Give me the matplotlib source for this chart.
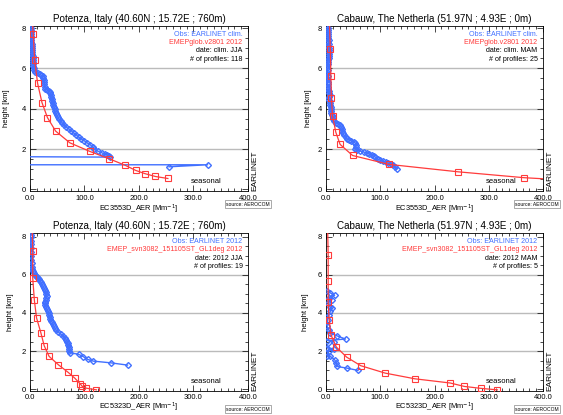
import matplotlib.pyplot as plt
from matplotlib.ticker import MultipleLocator, FormatStrFormatter

plt.rcParams['font.family'] = ['Liberation Sans', 'DejaVu Sans']

BLUE = '#4170ff'
RED = '#ff3b3b'

# Potenza, clim. JJA
pz_clim_obs_y = [8.0, 7.9, 7.8, 7.7, 7.6, 7.5, 7.4, 7.3, 7.2, 7.1, 7.0, 6.9, 6.8, 6.7, 6.6, 6.5, 6.4, 6.3,
                 6.2, 6.1, 6.0, 5.9, 5.8, 5.75, 5.7, 5.65, 5.6, 5.5, 5.4, 5.3, 5.2, 5.1, 5.0, 4.95, 4.9,
                 4.85, 4.8, 4.7, 4.6, 4.5, 4.4, 4.3, 4.2, 4.1, 4.0, 3.9, 3.8, 3.7, 3.6, 3.5, 3.4, 3.3,
                 3.2, 3.1, 3.0, 2.9, 2.8, 2.7, 2.6, 2.5, 2.4, 2.3, 2.2, 2.1, 2.0, 1.9, 1.8, 1.75, 1.7,
                 1.65, 1.6, 1.62, 1.22, 1.22, 1.12]
pz_clim_obs_x = [1, 1, 1.5, 1.5, 2, 2, 2, 2.5, 3, 3, 3, 3.5, 3.5, 4, 5, 5, 5.5, 5.5,
                 6, 6, 7, 8, 10, 14, 18, 21, 23, 24, 25, 26, 26, 27, 28, 31, 34,
                 36, 37, 38, 39, 40, 41, 42, 43, 44, 45, 46, 47, 49, 51, 53, 56, 59,
                 62, 66, 71, 76, 80, 85, 89, 94, 100, 105, 111, 115, 118, 124, 133, 138, 142,
                 145, 147, -20, -20, 326, 255]
pz_clim_mod_x = [4, 6, 8.5, 14, 22, 32, 47, 73, 110, 145, 175, 194, 211, 230, 253]
pz_clim_mod_y = [8.5, 7.7, 6.4, 5.25, 4.3, 3.56, 2.89, 2.31, 1.88, 1.52, 1.19, 0.94, 0.78, 0.64, 0.54]

# Cabauw, clim. MAM
cb_clim_obs_y = [8.0, 7.9, 7.8, 7.7, 7.6, 7.5, 7.4, 7.3, 7.2, 7.1, 7.0, 6.9, 6.8, 6.7, 6.6, 6.5, 6.4, 6.3,
                 6.2, 6.1, 6.0, 5.9, 5.8, 5.7, 5.6, 5.5, 5.4, 5.3, 5.2, 5.1, 5.0, 4.9, 4.8, 4.7, 4.6,
                 4.5, 4.4, 4.3, 4.2, 4.1, 4.0, 3.9, 3.8, 3.7, 3.6, 3.5, 3.4, 3.3, 3.25, 3.2, 3.1, 3.0,
                 2.9, 2.8, 2.7, 2.6, 2.5, 2.45, 2.4, 2.35, 2.3, 2.2, 2.1, 2.0, 1.95, 1.9, 1.85, 1.8,
                 1.75, 1.7, 1.65, 1.6, 1.5, 1.45, 1.4, 1.35, 1.3, 1.25, 1.2, 1.1, 1.0]
cb_clim_obs_x = [3, 3, 4, 3, 4, 4, 5, 4, 5, 4, 5, 5, 5, 6, 5, 5, 4, 3,
                 3, 2, 2, 3, 2, 2, 3, 2, 2, 3, 3, 3, 4, 5, 6, 8, 6,
                 4, 7, 8, 8, 9, 9, 10, 10, 11, 12, 12, 14, 18, 22, 25, 28, 30,
                 30, 31, 33, 36, 39, 43, 47, 51, 54, 56, 55, 54, 58, 63, 70, 76,
                 80, 84, 88, 91, 95, 100, 105, 110, 115, 120, 124, 127, 130]
cb_clim_mod_x = [6, 8, 9, 10, 12, 18, 26, 49, 116, 244, 365, 430]
cb_clim_mod_y = [8.5, 6.96, 5.64, 4.52, 3.66, 2.84, 2.23, 1.68, 1.24, 0.87, 0.58, 0.48]

# Potenza, 2012 JJA
pz_12_obs_y = [8.1, 8.0, 7.8, 7.6, 7.4, 7.2, 7.0, 6.8, 6.6, 6.4, 6.3, 6.2, 6.1, 6.0, 5.95, 5.9, 5.85,
               5.8, 5.7, 5.6, 5.5, 5.4, 5.3, 5.2, 5.1, 5.0, 4.9, 4.8, 4.7, 4.6, 4.5, 4.4, 4.3, 4.2,
               4.1, 4.0, 3.9, 3.8, 3.7, 3.6, 3.5, 3.4, 3.3, 3.2, 3.1, 3.0, 2.9, 2.8, 2.7, 2.6, 2.5,
               2.4, 2.3, 2.2, 2.1, 2.0, 1.91, 1.83, 1.7, 1.56, 1.47, 1.38, 1.26]
pz_12_obs_x = [1, 1, 1, 1.5, 1.5, 2, 2, 2.5, 3, 3, 4, 5, 7, 9, 11, 13, 15,
               17, 19, 20, 22, 24, 26, 28, 29, 30, 31, 30, 29, 28, 28, 28, 30, 31,
               33, 34, 35, 36, 37, 39, 41, 42, 44, 46, 48, 52, 56, 60, 64, 66, 68,
               69, 70, 71, 71, 72, 73, 89, 98, 106, 116, 148, 179]
pz_12_mod_x = [4, 5, 5, 8, 12, 20, 26, 35, 52, 70, 82, 92, 96, 103, 122]
pz_12_mod_y = [8.5, 7.25, 5.84, 4.67, 3.74, 2.95, 2.28, 1.72, 1.28, 0.88, 0.58, 0.28, 0.14, 0.05, -0.04]

# Cabauw, 2012 MAM
cb_12_obs_x = [2, 8, 16, 5, 11, 4, 8, 11, 8, 5, 3, 2, 5, 8, 20, 36, 2, 14, 2, 14, 5, 2, 8, 16, 19, 20, 39, 59]
cb_12_obs_y = [5.14, 5.05, 4.93, 4.79, 4.7, 4.53, 4.3, 4.26, 4.09, 3.9, 3.65, 3.3, 3.12, 2.95, 2.8, 2.63,
               2.55, 2.5, 2.16, 2.12, 1.98, 1.72, 1.72, 1.54, 1.37, 1.19, 1.1, 0.98]
cb_12_mod_x = [3, 4, 4, 4, 6, 9, 19, 38, 64, 109, 164, 229, 255, 285, 316]
cb_12_mod_y = [8.5, 7.04, 5.67, 4.56, 3.61, 2.86, 2.21, 1.68, 1.23, 0.84, 0.54, 0.32, 0.14, 0.04, -0.04]

W, H = 563, 415


def px_axes(fig, left, top, right, bottom):
    return fig.add_axes([left / W, (H - bottom) / H, (right - left) / W, (bottom - top) / H])


def draw_panel(fig, box, ylim, title, legend, xlabel, obs_x, obs_y, mod_x, mod_y,
               ylab_x, src_x, src_y, leg_top, leg_step, xtick_pad, xlab_pad):
    ax = px_axes(fig, *box)
    left, top, right, bottom = box
    w, h = right - left, bottom - top
    for g in [2, 4, 6]:
        ax.axhline(g, color='#bbbbbb', lw=1.0, zorder=0)
    ax.plot(obs_x, obs_y, color=BLUE, lw=1.0, marker='D', ms=3.0, mfc='none', mew=1.0, zorder=3)
    ax.plot(mod_x, mod_y, color=RED, lw=0.9, marker='s', ms=4.0, mfc='none', mew=0.8, zorder=4)
    ax.set_xlim(0, 400)
    ax.set_ylim(*ylim)
    ax.xaxis.set_major_locator(MultipleLocator(100))
    ax.xaxis.set_minor_locator(MultipleLocator(12.5))
    ax.xaxis.set_major_formatter(FormatStrFormatter('%.1f'))
    ax.yaxis.set_major_locator(MultipleLocator(2))
    ax.yaxis.set_minor_locator(MultipleLocator(0.5))
    ax.tick_params(which='both', direction='in', top=True, right=True, labelsize=5.5,
                   width=0.5, pad=3)
    ax.tick_params(axis='x', which='major', pad=xtick_pad)
    ax.tick_params(which='major', length=4)
    ax.tick_params(which='minor', length=2)
    for s in ax.spines.values():
        s.set_linewidth(0.6)
    ax.set_title(title, fontsize=7.1, pad=3)
    ax.set_ylabel('height [km]', fontsize=5.5)
    ax.yaxis.set_label_coords((ylab_x - left) / w, 0.5)
    ax.set_xlabel(xlabel, fontsize=5.3, labelpad=xlab_pad)
    colors = [BLUE, RED, 'black', 'black']
    for i, (txt, c) in enumerate(zip(legend, colors)):
        ax.text(0.975, (bottom - (leg_top + i * leg_step)) / h, txt, color=c, fontsize=5.1,
                ha='right', va='center', transform=ax.transAxes)
    ax.text(0.88, 0.06, 'seasonal', fontsize=5.5, ha='right', va='center', transform=ax.transAxes)
    ax.text(1.015, 0.0, 'EARLINET', fontsize=6, rotation=90, ha='left', va='bottom',
            transform=ax.transAxes)
    ax.text((src_x - left) / w, (bottom - src_y) / h, 'source: AEROCOM', fontsize=3.6,
            ha='center', va='center', transform=ax.transAxes,
            bbox=dict(facecolor='white', edgecolor='#888888', lw=0.5, pad=1.2))
    return ax


fig = plt.figure(figsize=(W / 100, H / 100), dpi=100)

top_ylim = (-0.08, 8.1)
bot_ylim = (-0.1, 8.2)

draw_panel(fig, (30, 26, 248, 191), top_ylim, 'Potenza, Italy (40.60N ; 15.72E ; 760m)',
           ['Obs: EARLINET clim.', 'EMEPglob.v2801 2012', 'date: clim. JJA', '# of profiles: 118'],
           'EC3553D_AER [Mm$^{-1}$]', pz_clim_obs_x, pz_clim_obs_y, pz_clim_mod_x, pz_clim_mod_y,
           10, 248, 204, 34, 8.5, 3, 0.5)
draw_panel(fig, (326, 26, 543, 191), top_ylim, 'Cabauw, The Netherla (51.97N ; 4.93E ; 0m)',
           ['Obs: EARLINET clim.', 'EMEPglob.v2801 2012', 'date: clim. MAM', '# of profiles: 25'],
           'EC3553D_AER [Mm$^{-1}$]', cb_clim_obs_x, cb_clim_obs_y, cb_clim_mod_x, cb_clim_mod_y,
           312, 537, 204, 34, 8.5, 3, 0.5)
draw_panel(fig, (30, 233, 248, 391), bot_ylim, 'Potenza, Italy (40.60N ; 15.72E ; 760m)',
           ['Obs: EARLINET 2012', 'EMEP_svn3082_151105ST_GL1deg 2012', 'date: 2012 JJA', '# of profiles: 19'],
           'EC5323D_AER [Mm$^{-1}$]', pz_12_obs_x, pz_12_obs_y, pz_12_mod_x, pz_12_mod_y,
           14, 248, 409, 241.5, 8.3, 2, 0)
draw_panel(fig, (326, 233, 543, 391), bot_ylim, 'Cabauw, The Netherla (51.97N ; 4.93E ; 0m)',
           ['Obs: EARLINET 2012', 'EMEP_svn3082_151105ST_GL1deg 2012', 'date: 2012 MAM', '# of profiles: 5'],
           'EC5323D_AER [Mm$^{-1}$]', cb_12_obs_x, cb_12_obs_y, cb_12_mod_x, cb_12_mod_y,
           309, 537, 409, 241.5, 8.3, 2, 0)

fig.savefig('out.png', dpi=100)
